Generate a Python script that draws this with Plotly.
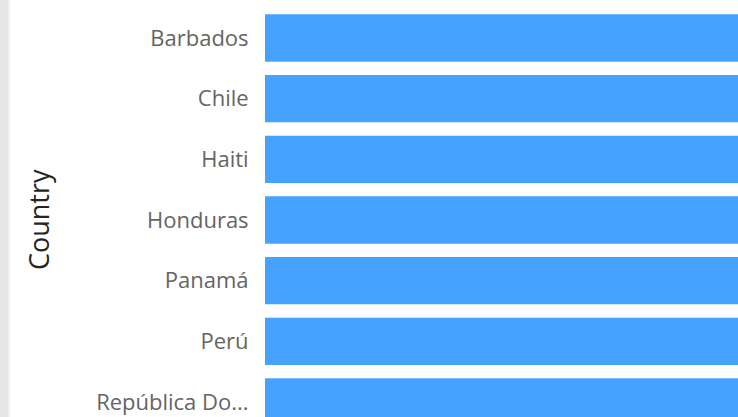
import plotly.graph_objects as go

countries = ["Barbados", "Chile", "Haiti", "Honduras", "Panamá", "Perú", "República Dominicana"]
tick_labels = ["Barbados", "Chile", "Haiti", "Honduras", "Panamá", "Perú", "República Do..."]
values = [1, 1, 1, 1, 1, 1, 1]

W, H = 738, 417
L = 265
pw = W - L

fig = go.Figure(go.Bar(
    x=values, y=countries, orientation="h",
    marker=dict(color="#45A3FF", line=dict(width=0)),
    width=0.78,
))

unit = 60.67
top = -38 / unit
bottom = top + H / unit

fig.update_layout(
    width=W, height=H,
    margin=dict(l=L, r=0, t=0, b=0),
    paper_bgcolor="white", plot_bgcolor="white",
    showlegend=False,
    font=dict(family="Open Sans", color="#605E5C"),
    xaxis=dict(range=[0, 0.8], visible=False, fixedrange=True),
    yaxis=dict(
        range=[bottom, top],
        tickmode="array", tickvals=countries, ticktext=tick_labels,
        tickfont=dict(size=22, color="#666462", family="Open Sans"),
        ticks="outside", ticklen=11, tickcolor="rgba(0,0,0,0)",
        showgrid=False, zeroline=False, showline=False,
    ),
    annotations=[dict(
        text="Country", textangle=-90, xref="paper", yref="paper",
        x=(38 - L) / pw, y=1 - 220 / H, xanchor="center", yanchor="middle",
        showarrow=False, font=dict(size=27, color="#252423", family="Open Sans"),
    )],
    shapes=[
        dict(type="rect", xref="paper", yref="paper", x0=(0 - L) / pw, x1=(8 - L) / pw,
             y0=0, y1=1, fillcolor="#E6E6E6", line=dict(width=0), layer="below"),
        dict(type="rect", xref="paper", yref="paper", x0=(8 - L) / pw, x1=(10 - L) / pw,
             y0=0, y1=1, fillcolor="#F1F1F1", line=dict(width=0), layer="below"),
    ],
)

fig.write_html("out.html", config={"displayModeBar": False},
               post_script="document.body.style.margin='0';document.body.style.overflow='hidden';")
